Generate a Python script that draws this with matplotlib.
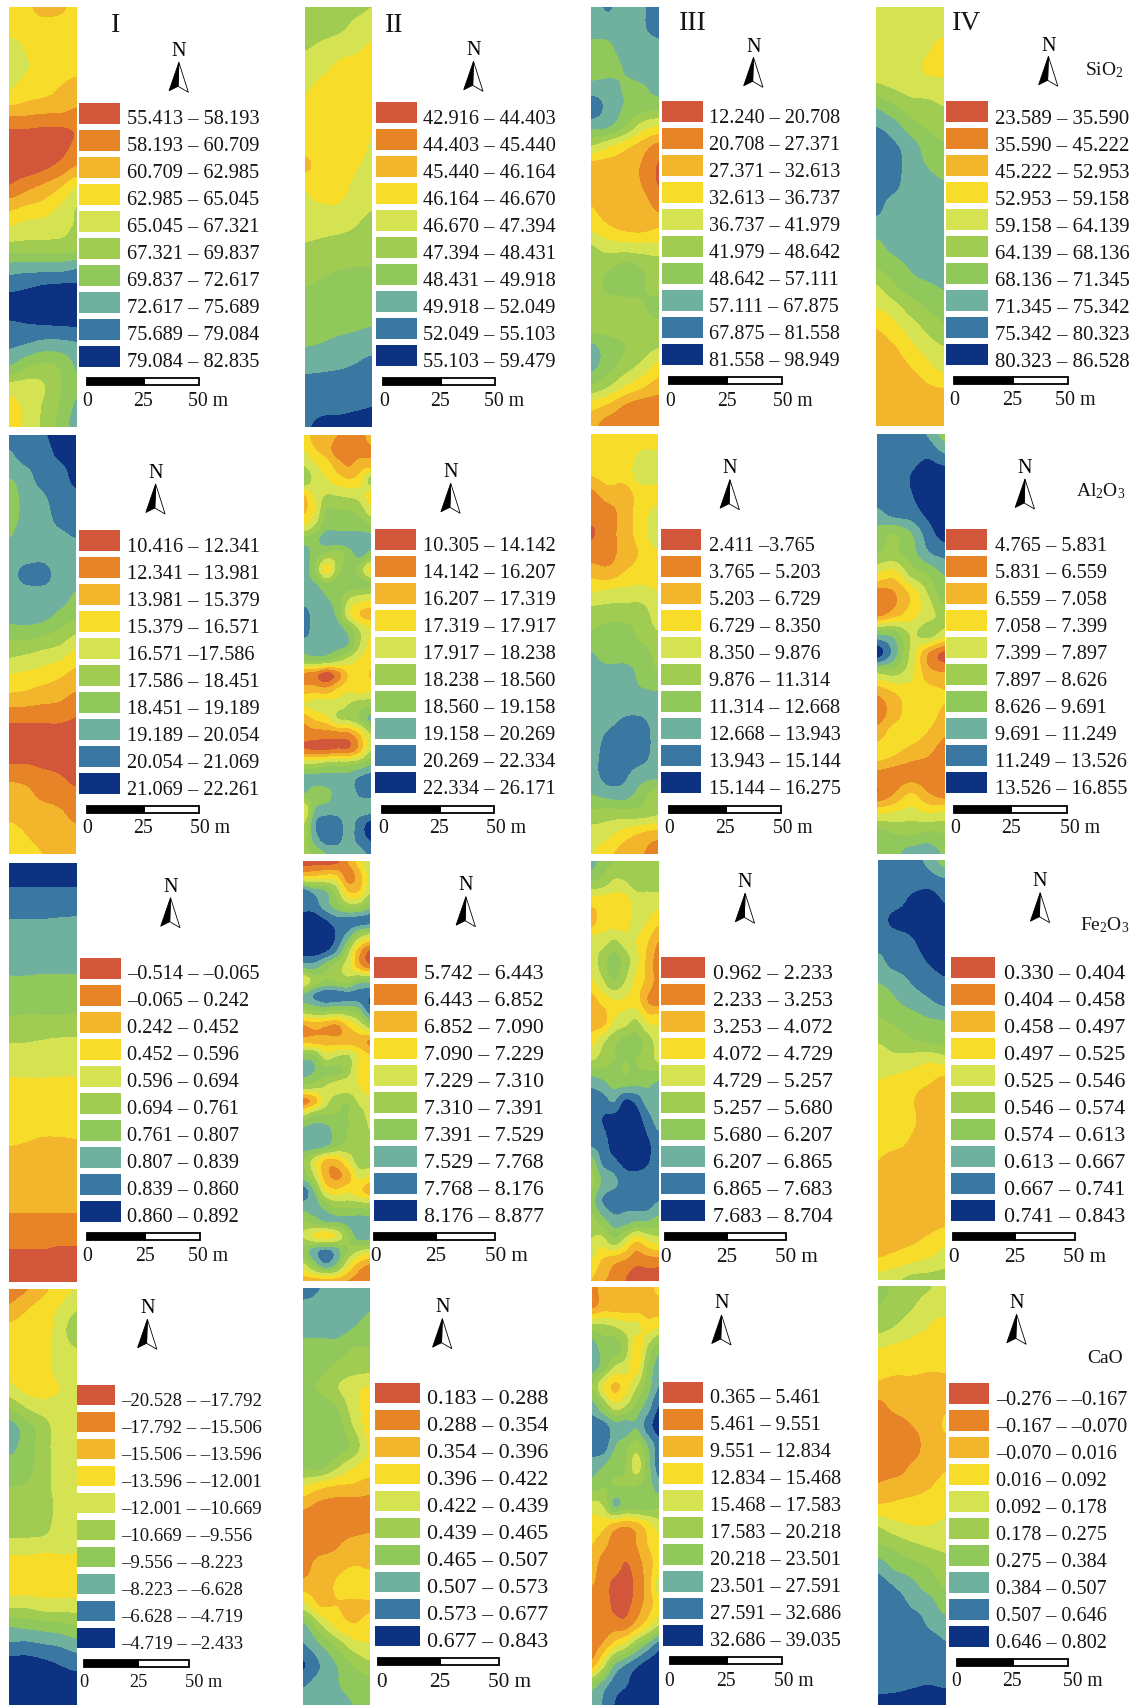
import numpy as np
import matplotlib
matplotlib.use('Agg')
import matplotlib.pyplot as plt
from matplotlib.colors import ListedColormap, BoundaryNorm
from matplotlib.patches import Rectangle

plt.rcParams['font.family'] = ['Liberation Serif', 'DejaVu Serif']
plt.rcParams['mathtext.fontset'] = 'custom'
plt.rcParams['mathtext.rm'] = 'Liberation Serif'
plt.rcParams['mathtext.default'] = 'rm'

# legend colours, class 1 (top swatch) to class 10 (bottom swatch)
COLORS = ['#D2573A', '#E78427', '#F2B52C', '#F7DC2A', '#D5E353',
          '#A0CC52', '#90C85B', '#70B09E', '#3A78A2', '#0D3282']

ROMAN = ['I', 'II', 'III', 'IV']
OXIDES = ['SiO$_2$', 'Al$_2$O$_3$', 'Fe$_2$O$_3$', 'CaO']

# legend labels, row by row
LABELS_1_1 = ['55.413 – 58.193', '58.193 – 60.709', '60.709 – 62.985', '62.985 – 65.045', '65.045 – 67.321',
              '67.321 – 69.837', '69.837 – 72.617', '72.617 – 75.689', '75.689 – 79.084', '79.084 – 82.835']
LABELS_1_2 = ['42.916 – 44.403', '44.403 – 45.440', '45.440 – 46.164', '46.164 – 46.670', '46.670 – 47.394',
              '47.394 – 48.431', '48.431 – 49.918', '49.918 – 52.049', '52.049 – 55.103', '55.103 – 59.479']
LABELS_1_3 = ['12.240 – 20.708', '20.708 – 27.371', '27.371 – 32.613', '32.613 – 36.737', '36.737 – 41.979',
              '41.979 – 48.642', '48.642 – 57.111', '57.111 – 67.875', '67.875 – 81.558', '81.558 – 98.949']
LABELS_1_4 = ['23.589 – 35.590', '35.590 – 45.222', '45.222 – 52.953', '52.953 – 59.158', '59.158 – 64.139',
              '64.139 – 68.136', '68.136 – 71.345', '71.345 – 75.342', '75.342 – 80.323', '80.323 – 86.528']
LABELS_2_1 = ['10.416 – 12.341', '12.341 – 13.981', '13.981 – 15.379', '15.379 – 16.571', '16.571 –17.586',
              '17.586 – 18.451', '18.451 – 19.189', '19.189 – 20.054', '20.054 – 21.069', '21.069 – 22.261']
LABELS_2_2 = ['10.305 – 14.142', '14.142 – 16.207', '16.207 – 17.319', '17.319 – 17.917', '17.917 – 18.238',
              '18.238 – 18.560', '18.560 – 19.158', '19.158 – 20.269', '20.269 – 22.334', '22.334 – 26.171']
LABELS_2_3 = ['2.411 –3.765', '3.765 – 5.203', '5.203 – 6.729', '6.729 – 8.350', '8.350 – 9.876',
              '9.876 – 11.314', '11.314 – 12.668', '12.668 – 13.943', '13.943 – 15.144', '15.144 – 16.275']
LABELS_2_4 = ['4.765 – 5.831', '5.831 – 6.559', '6.559 – 7.058', '7.058 – 7.399', '7.399 – 7.897',
              '7.897 – 8.626', '8.626 – 9.691', '9.691 – 11.249', '11.249 – 13.526', '13.526 – 16.855']
LABELS_3_1 = ['–0.514 – –0.065', '–0.065 – 0.242', '0.242 – 0.452', '0.452 – 0.596', '0.596 – 0.694',
              '0.694 – 0.761', '0.761 – 0.807', '0.807 – 0.839', '0.839 – 0.860', '0.860 – 0.892']
LABELS_3_2 = ['5.742 – 6.443', '6.443 – 6.852', '6.852 – 7.090', '7.090 – 7.229', '7.229 – 7.310',
              '7.310 – 7.391', '7.391 – 7.529', '7.529 – 7.768', '7.768 – 8.176', '8.176 – 8.877']
LABELS_3_3 = ['0.962 – 2.233', '2.233 – 3.253', '3.253 – 4.072', '4.072 – 4.729', '4.729 – 5.257',
              '5.257 – 5.680', '5.680 – 6.207', '6.207 – 6.865', '6.865 – 7.683', '7.683 – 8.704']
LABELS_3_4 = ['0.330 – 0.404', '0.404 – 0.458', '0.458 – 0.497', '0.497 – 0.525', '0.525 – 0.546',
              '0.546 – 0.574', '0.574 – 0.613', '0.613 – 0.667', '0.667 – 0.741', '0.741 – 0.843']
LABELS_4_1 = ['–20.528 – –17.792', '–17.792 – –15.506', '–15.506 – –13.596', '–13.596 – –12.001', '–12.001 – –10.669',
              '–10.669 – –9.556', '–9.556 – –8.223', '–8.223 – –6.628', '–6.628 – –4.719', '–4.719 – –2.433']
LABELS_4_2 = ['0.183 – 0.288', '0.288 – 0.354', '0.354 – 0.396', '0.396 – 0.422', '0.422 – 0.439',
              '0.439 – 0.465', '0.465 – 0.507', '0.507 – 0.573', '0.573 – 0.677', '0.677 – 0.843']
LABELS_4_3 = ['0.365 – 5.461', '5.461 – 9.551', '9.551 – 12.834', '12.834 – 15.468', '15.468 – 17.583',
              '17.583 – 20.218', '20.218 – 23.501', '23.501 – 27.591', '27.591 – 32.686', '32.686 – 39.035']
LABELS_4_4 = ['–0.276 – –0.167', '–0.167 – –0.070', '–0.070 – 0.016', '0.016 – 0.092', '0.092 – 0.178',
              '0.178 – 0.275', '0.275 – 0.384', '0.384 – 0.507', '0.507 – 0.646', '0.646 – 0.802']

# maps: legend class at grid points, top row first
MAP_1_1 = [[4, 3.8, 3, 3.2, 4], [4, 4, 4, 4, 4], [5, 4.4, 4, 4, 4], [5, 4.6, 4, 4, 3.9],
           [4.6, 4.1, 3.9, 3.5, 3], [3.4, 3.2, 3, 2.9, 2.5], [1.6, 1.6, 1.5, 1.5, 1.6], [1, 1, 1, 1.2, 1.7],
           [1, 1, 1.3, 1.8, 2.6], [1.6, 2.2, 2.7, 3.4, 4.5], [3.2, 3.6, 3.9, 4.6, 5.5], [4.5, 4.9, 5, 5.2, 5.6],
           [5.9, 5.9, 5.9, 5.9, 6], [7.9, 8, 8, 8, 8.3], [9.2, 9.4, 9.6, 9.7, 9.7], [10, 10, 10, 10, 10],
           [9.2, 9.35, 9.4, 9.45, 9.5], [8.6, 8.3, 7.9, 7.9, 8.2], [7.4, 6.6, 6.2, 6.6, 7.6], [5, 5, 5.4, 6.4, 7.3],
           [4.2, 4.7, 5.6, 6.6, 7.7], [4, 4.7, 5.7, 6.8, 8]]
MAP_1_2 = [[6.4, 6, 5.8, 5.7, 5.5], [6, 5.9, 5.7, 5.3, 5], [5.6, 5.3, 5, 4.8, 4.3], [5, 4.8, 4.3, 4, 4],
           [4.7, 4.2, 4, 4, 4], [4, 4, 4, 4, 4], [4, 4, 4, 4, 4.4], [3.8, 4, 4, 4.1, 4.6],
           [3.3, 3.9, 4, 4.4, 4.8], [4.4, 4, 4.1, 4.7, 5], [4.7, 4.6, 4.6, 5, 5.4], [5.1, 5.1, 5.2, 5.5, 5.9],
           [5.6, 5.8, 6, 6, 6], [6, 6.2, 6.4, 6.5, 6.5], [6.5, 6.7, 7, 7, 7], [7, 7, 7, 7, 7],
           [7.2, 7.2, 7.3, 7.4, 7.5], [7.5, 7.6, 7.8, 7.9, 8.1], [8.2, 8.3, 8.4, 8.6, 9], [9, 9, 9.1, 9.2, 9.2],
           [9.2, 9.3, 9.3, 9.4, 9.5], [9.4, 9.7, 9.8, 9.9, 9.9]]
MAP_1_3 = [[8, 8.6, 8, 8.3, 9.2], [8, 8, 8, 8.3, 9.2], [7.2, 7.3, 8, 8, 8], [7, 7, 7.6, 8, 8],
           [7.8, 7.9, 7.4, 7.4, 7.9], [9.1, 8.2, 7.4, 7, 6.8], [7.8, 7.6, 6.5, 5, 4.4], [5.4, 4.6, 3.8, 3, 2.1],
           [3, 3, 3, 2.4, 1.4], [3, 3, 3, 2.5, 1.5], [3.5, 3, 3, 3, 2.2], [4.2, 3.6, 3.2, 3.1, 3.4],
           [5.6, 5, 4.9, 4.8, 4.8], [6, 6.3, 6.8, 6.4, 6], [6, 6.7, 7, 6.6, 6], [6, 6, 6, 6.4, 6.9],
           [6, 6, 6, 6, 6.2], [7.7, 7, 6.5, 6, 5.6], [7.8, 6.9, 6, 5.2, 4.2], [6.4, 5.6, 4.5, 3.7, 3],
           [3.9, 3.3, 2.4, 2, 2], [2.8, 2, 2, 2, 2]]
MAP_1_4 = [[5, 5, 5, 5, 5], [5, 5, 5, 5, 5], [5, 5, 5, 4.7, 4], [5, 5, 5, 4.3, 4],
           [5.7, 5.4, 5.1, 5, 5], [7.4, 6.7, 6, 5.8, 5.5], [8.5, 8, 7, 6.4, 6.1], [9, 8.7, 8, 7.1, 6.6],
           [9.1, 9, 8, 7.5, 7], [9.1, 8.8, 8, 8, 7.7], [8.9, 8, 8, 8, 8], [8, 8, 8, 8, 8],
           [7.2, 7.8, 8, 8, 8], [6.6, 7, 7.6, 8, 8], [5.4, 6.3, 7, 7.3, 7.6], [4.6, 5.1, 6, 6.6, 7],
           [3.6, 4.2, 5, 5.8, 6.4], [3, 3.4, 4.2, 5, 5.5], [3, 3, 3.5, 4.2, 4.9], [3, 3, 3, 3.4, 3.6],
           [3, 3, 3, 3, 3], [3, 3, 3, 3, 3]]
MAP_2_1 = [[9, 9, 9.3, 10, 10], [8.3, 9, 9, 9.7, 10], [7.6, 8.1, 9, 9, 9.9], [7, 7.9, 8.4, 9, 9.3],
           [7, 7.8, 8, 8.9, 9], [7.4, 8, 8, 8.3, 8.6], [8, 8, 8.1, 8, 8], [8, 8.9, 9, 8, 7.9],
           [8, 8, 8, 8, 7.4], [8, 8, 7.9, 7.3, 6.8], [6.8, 6.9, 6.6, 6.2, 5.5], [5.7, 5.5, 5.2, 4.9, 4.2],
           [4.5, 4.3, 4.1, 3.7, 3.2], [3.4, 3.3, 3, 2.8, 2.4], [2, 2, 2, 2, 1.6], [1, 1, 1, 1, 1],
           [1, 1.1, 1, 1, 1], [2.1, 2, 1.7, 1.5, 1.2], [3, 2.8, 2.2, 2, 1.7], [3.2, 3, 3, 2.7, 2.2],
           [4, 3.5, 3, 3, 2.8], [4.2, 4, 3.5, 3, 3]]
MAP_2_2 = [[4, 3, 3, 2.5, 2, 2, 3], [4.5, 3.6, 3, 2, 2, 2, 2.4], [5.4, 4.6, 4, 3, 2.4, 3, 3],
           [6.5, 5, 4.6, 4, 3.6, 4, 6], [3.5, 4.8, 5.5, 5.4, 5.2, 5, 4], [3.3, 4.5, 6.5, 6.5, 6.5, 6, 4.8],
           [4.4, 5.5, 7, 7, 7, 7, 6.5], [7, 7.2, 8, 8, 8, 8, 8], [8, 7, 6.2, 6, 7, 7.8, 7],
           [8, 6.5, 4, 6, 7, 6, 4.2], [7.8, 7.6, 6.8, 7, 7, 7, 6.6], [8, 8, 7.6, 7, 5.5, 4.8, 4.6],
           [9, 8, 8, 7.2, 4.8, 3.5, 3], [9, 8, 8, 8, 7, 5.4, 4.5], [8, 8, 8, 8, 7.4, 5.5, 4.2],
           [6.8, 7, 6.8, 6, 5.2, 4.4, 4], [2.2, 1.9, 1, 2, 3.6, 4, 3.4], [3, 3, 2.8, 3.6, 4.3, 4, 4.2],
           [4.5, 4.9, 5, 5, 5.5, 6, 6.2], [2.8, 3.6, 4, 5.4, 5.6, 6.5, 7.7], [2, 2, 2, 2, 2.2, 3.5, 5.5],
           [1.6, 1.4, 1.4, 1.6, 1.6, 3, 5.5], [5.5, 5.6, 6, 6.2, 6.2, 6.6, 7.4], [8, 8, 8, 8, 8, 8.7, 9],
           [7.4, 6.6, 7, 8, 8, 8.6, 8.7], [4.5, 7.5, 8, 8, 8, 8, 8], [5.5, 8.4, 9, 9, 8, 9, 9.8],
           [6, 8, 9, 8.9, 8, 9, 9.6], [6.2, 6.7, 7.5, 7.8, 7.6, 8, 8.8]]
MAP_2_3 = [[4, 4, 4, 4, 4], [4, 4, 4, 4.6, 4.6], [3.6, 4, 4, 5, 5], [2.2, 3, 3, 4, 4],
           [1.8, 2, 3, 4, 5], [1.4, 2, 3, 4, 5.4], [2, 2, 3, 3.6, 4.3], [3.2, 3, 3.6, 4, 4],
           [4.6, 4.9, 5, 5, 4.6], [6, 6, 6, 6, 5], [6.6, 7, 7, 6.2, 5.6], [7.6, 7, 7, 7, 6.2],
           [8, 8, 8, 7.2, 6.6], [8, 8, 7.7, 7.7, 7.6], [8, 8, 8.4, 8.4, 8], [8, 8.6, 9, 9.1, 8],
           [8, 9, 9.1, 9, 8], [8, 9, 8.7, 8, 7.9], [7.5, 7.9, 8, 7, 6], [6.2, 6, 6, 6, 5.6],
           [5, 4.8, 4, 3.4, 3], [4.6, 3.8, 3, 2.6, 1.8]]
MAP_2_4 = [[9, 9, 9, 8.4, 7], [9, 9, 9, 9.3, 8.5], [9, 9, 9.5, 10, 10], [9, 9, 9.45, 10, 10],
           [8.2, 8.8, 9, 9.7, 10], [7, 6.5, 7.4, 9, 9.9], [6.4, 6.2, 7, 8.3, 8.8], [4.4, 4, 5.8, 6.6, 7.6],
           [2, 2.4, 3.7, 5.5, 7.1], [2, 3, 4, 5, 6], [7.4, 7, 5.4, 6, 5], [10, 8, 5.2, 2.5, 1.2],
           [5.4, 5.7, 4.8, 3, 2.6], [2.6, 3.4, 4, 4, 3.6], [2, 3, 4, 4, 3.2], [3, 4, 4, 3.4, 2.6],
           [4, 3.6, 3, 2.6, 2], [2.2, 2, 2, 2, 2], [1.6, 2.5, 3.6, 2.6, 2], [4.5, 4.7, 5, 4.6, 4.8],
           [7, 6.5, 6.4, 6.8, 6.5], [7, 7.2, 8, 8, 7.4]]
MAP_3_1 = [[10, 10, 10, 10, 10], [9.6, 9.6, 9.6, 9.6, 9.6], [9, 9, 9, 9, 9], [8.4, 8.4, 8.4, 8.35, 8.3],
           [8.1, 8.1, 8.1, 8.1, 8.1], [7.75, 7.75, 7.75, 7.75, 7.75], [7.35, 7.35, 7.3, 7.3, 7.3], [6.9, 6.9, 6.9, 6.9, 6.9],
           [6.3, 6.2, 6.2, 6.2, 6.1], [5.5, 5.5, 5.4, 5.3, 5.3], [4.9, 4.9, 4.9, 4.8, 4.8], [4.4, 4.4, 4.4, 4.4, 4.4],
           [4.2, 4.2, 4.2, 4.2, 4.2], [3.85, 3.85, 3.85, 3.85, 3.85], [3.55, 3.5, 3.4, 3.4, 3.45], [3.3, 3.3, 3.3, 3.3, 3.3],
           [3, 3, 3, 3, 3], [2.7, 2.7, 2.7, 2.7, 2.7], [2.3, 2.3, 2.3, 2.3, 2.3], [1.7, 1.7, 1.7, 1.6, 1.6],
           [1.2, 1.2, 1.2, 1.2, 1.2], [1, 1, 1, 1, 1]]
MAP_3_2 = [[1, 1, 1, 1.2, 2.5, 4, 5.5], [3.5, 3.5, 3.8, 3.6, 2, 3, 4.8], [9, 8, 7.5, 6, 3.5, 3.5, 5.3],
           [9.2, 9, 8, 7, 6, 6, 7], [10, 10, 9.6, 9, 9, 9, 9], [10, 10, 10, 9.4, 8, 6, 5],
           [10, 10, 9.6, 8.5, 6, 3, 1.4], [8, 8, 7, 6, 5, 3, 1.8], [4.5, 6, 6.6, 6.4, 6, 7, 7],
           [7.8, 8.6, 9.3, 9.2, 9, 9, 9.4], [6, 6.4, 6.5, 6.2, 6.4, 7, 9], [2.4, 2.8, 2.6, 2.3, 3.5, 4.6, 6],
           [3, 3, 3, 3, 3, 3, 2.4], [7, 6.8, 5, 5.4, 5.6, 4.4, 3.6], [8, 7.5, 6.8, 6.8, 6, 4.3, 3.7],
           [6.2, 6, 5.5, 5, 4.8, 4.5, 3.6], [2, 3, 5, 6, 6.4, 5.3, 5], [5.5, 6.6, 6.6, 6.6, 6.5, 6, 5.2],
           [8, 8, 8, 7, 6.5, 6.4, 5.5], [8, 8, 7.6, 6.6, 6.2, 6, 6], [6.6, 5, 3.3, 3.2, 4.5, 6, 6.3],
           [7.2, 5.5, 3, 2.3, 3, 4.8, 4.4], [9, 7.4, 4.5, 3.8, 4.3, 3.8, 3], [8, 8, 7, 6.2, 6.2, 6.2, 6],
           [6.4, 7, 7.6, 7.6, 7.8, 8, 8], [5.4, 4.4, 3.8, 4.6, 6.4, 8, 8], [7, 8, 8.8, 8, 6.4, 5.5, 5],
           [5, 6.6, 8, 7, 4.6, 3, 2.3], [3, 3, 3, 3, 2.5, 2, 2]]
MAP_3_3 = [[8, 7, 6.5, 6, 6, 6, 6], [6.6, 6.2, 5.4, 5.5, 6, 6, 6], [4, 4, 4, 4, 5, 5, 5],
           [3, 4, 4, 4, 5, 4.5, 3.8], [5, 5, 5.6, 5, 4.5, 3.6, 2.5], [4.8, 6, 7, 6, 4.8, 3.2, 2],
           [4.3, 5.3, 6.5, 5.5, 4.2, 3.2, 2], [3, 3.8, 4.4, 4.4, 4, 2.5, 2], [3, 3, 4.5, 5, 5.6, 4.3, 4.2],
           [4, 5.2, 6.2, 6.8, 6.9, 6, 5], [5.5, 6, 6.5, 6.5, 6.5, 6, 5.4], [8, 7.6, 7, 6.8, 7, 7.2, 7.5],
           [9, 9, 8.4, 9.6, 9.2, 8, 8], [9, 9.5, 10, 10, 10, 9, 8], [9, 9, 10, 10, 10, 9.6, 9],
           [7, 8.7, 9.3, 9.8, 10, 9.6, 9], [6, 7.6, 8.2, 9, 9, 9, 9], [7, 8.5, 9, 8.7, 9, 9, 8.5],
           [6, 7, 8, 8, 7.5, 7.5, 7], [5.4, 5, 6.2, 5, 3.6, 4.4, 5], [4.5, 3.4, 2.8, 2.4, 1.8, 2, 2],
           [3.5, 2.6, 2.3, 1.5, 1, 1, 1]]
MAP_3_4 = [[9, 9, 9, 8.2, 7], [9, 9, 9, 9, 8.6], [9, 9, 9.7, 10, 9.4], [9, 9.8, 10, 10, 10],
           [9, 9, 9.4, 10, 10], [8.2, 9, 9, 9.6, 10], [7.6, 8, 8.6, 9, 9.4], [6.9, 7.4, 8, 8.4, 8.9],
           [6.4, 6.7, 7, 7.4, 7.5], [5.6, 6, 6.4, 6.7, 6.9], [5, 5.2, 5, 4.7, 5], [4.5, 4.3, 4, 3.7, 3.2],
           [4.1, 4, 3.6, 3, 3], [4, 4, 3.7, 3, 3], [4, 4, 3.4, 3, 3], [3.5, 3, 3, 3, 3],
           [3, 3, 3, 3, 3], [3, 3, 3, 3, 3], [3, 3, 3, 3, 3.2], [3, 3.1, 3.3, 3.7, 4.2],
           [3.6, 3.9, 4.3, 4.6, 5], [5, 5.3, 5.8, 5.9, 6]]
MAP_4_1 = [[2, 2.4, 3.2, 4, 4.6], [2.7, 3.4, 4, 4.6, 5.4], [3.8, 4, 4, 5, 6.2], [4, 4, 4, 5, 5.5],
           [4, 4, 4, 5, 5], [4.8, 4.2, 4, 4.5, 5], [6.4, 5.5, 5, 5, 5], [8, 7, 6, 5, 5],
           [7.8, 7, 6, 5, 5], [7, 6.8, 6, 5, 5], [6.5, 6.4, 6, 5, 5], [6, 6, 6, 5.2, 5],
           [6, 6, 5.9, 5, 5], [5, 5, 4.9, 4.9, 4.8], [4, 4, 3.8, 3.8, 3.9], [4, 4, 4, 4, 4],
           [5.3, 5.3, 5, 5, 5], [7.4, 7.2, 7, 6.8, 6.5], [8.7, 8.8, 8.6, 8.4, 8], [10, 10, 9.8, 9.5, 9.2],
           [10, 10, 10, 10, 10], [10, 10, 10, 10, 10]]
MAP_4_2 = [[9.3, 8.5, 8, 8, 8], [8, 8, 8, 8, 7.6], [8, 8, 8, 7.5, 7], [7, 7, 7, 6.5, 6.5],
           [7, 6.8, 6.3, 6, 5.9], [6.6, 6.4, 5.6, 4.8, 4.4], [7, 7, 6.5, 5, 4], [7, 7, 7, 5.5, 4],
           [7, 7, 7, 6.2, 4.4], [6.6, 6.8, 5.7, 4.6, 4], [4.5, 3.8, 3.4, 3.3, 3], [2.7, 2.2, 2, 2, 2],
           [2, 2, 2, 2, 2.3], [2, 2, 2.4, 3, 3], [2, 3, 3.2, 3.5, 3.4], [3, 3, 3.6, 4, 3.9],
           [5, 3.5, 3.5, 3.3, 3.4], [7.8, 5.8, 4.2, 3.6, 3.9], [8.6, 7.6, 6.3, 5, 4.6], [9.6, 8.5, 7.5, 6.5, 5.8],
           [8.6, 8, 7.6, 7, 7], [8, 8, 8, 7.5, 7]]
MAP_4_3 = [[2, 3, 3, 3, 3, 3, 4], [2.3, 3, 3, 3, 3, 3, 3], [6, 5.8, 5.5, 5, 4.8, 4, 4.5],
           [8, 7, 7, 6, 3.8, 5.5, 7], [8, 7, 5.5, 5, 4, 6.5, 8], [6.5, 4.5, 3.3, 4, 5.4, 7, 8.5],
           [8, 6.5, 5, 5.5, 6.8, 8, 9.5], [9, 9, 8, 8, 7.6, 9, 10], [9, 9, 7.6, 6.8, 6, 7.5, 9],
           [8, 7.5, 6.8, 6.5, 5, 7, 9], [7, 6.6, 6.5, 6.5, 6.5, 7, 8], [5, 5.5, 7.55, 7, 7, 7, 6.6],
           [4, 3.8, 3, 2.6, 3, 4, 5], [3.5, 2.8, 2, 2, 2.5, 3.5, 4], [3, 2, 2, 1.4, 2, 3, 4],
           [2.5, 2, 1.2, 1, 1.8, 3, 5], [2, 2, 1.3, 1.2, 2, 3, 4], [2, 2, 2, 2, 3, 4.2, 5.5],
           [2, 2.7, 4, 5, 6.5, 7.8, 9], [3, 5, 7.5, 8.5, 9.3, 9.9, 10], [7, 8, 9, 9.4, 10, 10, 10],
           [8, 8.6, 9.5, 10, 10, 10, 10]]
MAP_4_4 = [[7, 6.3, 6, 5.6, 5], [6.5, 6, 5.6, 5, 5], [6, 5.5, 5, 4.5, 4], [4.6, 4.4, 4.2, 4, 3.8],
           [4, 4, 4, 3.7, 3.7], [3.3, 3, 3, 3, 3.2], [2.2, 2.8, 3, 3, 3.4], [1.8, 2, 2.5, 3, 3.6],
           [2, 2, 2, 3, 3.3], [2, 2, 2.6, 3, 3.4], [2.6, 2.9, 3, 3.4, 3.8], [3.6, 3.7, 3.9, 4, 4.2],
           [5.4, 4.8, 4.5, 4.5, 4.7], [6.6, 6.2, 5.7, 5.4, 5.2], [8, 7.2, 6.8, 6.4, 6], [9, 8.4, 7.8, 7, 6.4],
           [9, 9, 8.4, 8, 7], [9, 9, 9, 8.4, 8], [9, 9, 9, 9, 8.6], [9, 9, 9, 9, 9],
           [9.2, 9.2, 9.4, 9.5, 9.4], [9.8, 10, 10, 10, 10]]

MAPS = [MAP_1_1, MAP_1_2, MAP_1_3, MAP_1_4, MAP_2_1, MAP_2_2, MAP_2_3, MAP_2_4,
        MAP_3_1, MAP_3_2, MAP_3_3, MAP_3_4, MAP_4_1, MAP_4_2, MAP_4_3, MAP_4_4]
LABELS = [LABELS_1_1, LABELS_1_2, LABELS_1_3, LABELS_1_4, LABELS_2_1, LABELS_2_2, LABELS_2_3, LABELS_2_4,
          LABELS_3_1, LABELS_3_2, LABELS_3_3, LABELS_3_4, LABELS_4_1, LABELS_4_2, LABELS_4_3, LABELS_4_4]

# layout read from the crops; x goes through sx() below
# map x0, x1, y0, y1
BOXES = [(8.3, 70, 8.3, 428), (281, 342.3, 8.3, 428), (589, 651, 8, 427), (851.3, 913.7, 8, 427),
         (8.3, 69.3, 436, 855), (280.3, 341.7, 436, 855), (588.7, 650.3, 435, 855), (852, 913.7, 435, 855),
         (8.3, 70, 864, 1283), (278.7, 340, 862, 1282), (589, 651, 862, 1282), (853, 914.3, 861, 1281),
         (8.3, 70, 1290, 1706), (278.7, 340, 1289, 1706), (589.7, 651.3, 1288, 1706), (853, 914.7, 1287, 1706)]
# swatch x0, x1, top of first swatch, text x, centre of first text line
LEGENDS = [(72.7, 110.3, 104, 116.7, 117.3), (346, 383.7, 103.3, 389.3, 117.3), (654.7, 692, 102.3, 698, 116.7),
           (916.3, 954.7, 102.3, 961.3, 116.7),
           (72.7, 110.3, 531, 117.3, 545), (345, 382.7, 530.3, 389.3, 544.3), (653.3, 690.7, 530.3, 697.3, 544.3),
           (916.3, 954, 530, 960.7, 544.3),
           (73.3, 111, 959, 116.7, 972.3), (344, 384.3, 958.3, 390.7, 972.2), (654, 694.3, 958.3, 701, 971.8),
           (920.7, 961.3, 958.3, 969.3, 971.5),
           (71, 105.7, 1385.7, 111.7, 1399.5), (345.7, 386.3, 1383.7, 393.3, 1397), (655, 692.3, 1383, 698.3, 1396.7),
           (918.7, 956, 1384.3, 962, 1398)]
# scale bar x0, xmid, x1, top, label centres for 0, 25, 50 m, label y
BARS = [(80, 132.3, 183.3, 379, 80.3, 132, 192, 401.3), (352.7, 406, 455.7, 379, 353.7, 405, 464, 401.3),
        (661.3, 714, 765, 378.3, 662, 714, 775, 401.5), (923.7, 977.3, 1028, 378.3, 923.3, 977.3, 1034.7, 400.5),
        (80, 132.3, 183.3, 806.7, 80.3, 132, 193, 828.7), (352, 404.7, 455, 806.7, 352.7, 404, 466, 828.7),
        (660.7, 713, 764, 806.7, 661.3, 712.7, 775, 828.7), (923.7, 976.3, 1027.3, 806.7, 924.3, 975.7, 1039, 828.7),
        (80.3, 133.3, 184, 1234.3, 80.3, 133.3, 192, 1256.8), (344.3, 401.7, 456, 1234, 345.7, 401.3, 466, 1256.8),
        (657, 714, 769, 1233.7, 657.7, 713.7, 778, 1257), (922.7, 979.7, 1034.7, 1233.7, 923.3, 979.3, 1044, 1257),
        (77.7, 126.7, 174, 1661, 77, 127.7, 187.3, 1683), (347.7, 404.7, 459.7, 1659.3, 351, 404.7, 469.3, 1682.5),
        (661.7, 714, 765, 1658.3, 660.7, 713.3, 776, 1681.5), (925.7, 978, 1028.7, 1659.7, 925.3, 977, 1041.7, 1681.5)]
# north arrow x, y of the letter, y of the arrow tip
NORTH = [(164.7, 51.3, 63.3), (436, 50.7, 62.3), (738.7, 47, 58.3), (1010.3, 46.3, 57.3),
         (143.3, 473, 485), (415, 472.3, 484.3), (717, 468.7, 480.7), (988.7, 468, 480),
         (157, 887, 898.7), (429, 886, 897.7), (731, 882.7, 894.3), (1002.7, 882, 893.7),
         (135.7, 1308.3, 1320.3), (407.3, 1308, 1319.7), (709.3, 1304, 1316), (981, 1303.3, 1315.3)]
ROMAN_POS = [(106, 25), (363.3, 25), (682.7, 23.3), (935.3, 23.3)]
OXIDE_POS = [(1062, 70), (1058, 491.5), (1062, 925), (1062, 1358.7)]

LEGEND_STEP = 27.0
SWATCH_H = 20.5


def sx(x):
    # the crops came back squeezed in x, stretch back to picture pixels
    s = 1.086
    return x * s if x < 567 else 567 + (x - 567) * s


fig = plt.figure(figsize=(11.34, 17.06), dpi=100)
ax = fig.add_axes([0, 0, 1, 1])

cmap = ListedColormap(COLORS)
norm = BoundaryNorm(np.arange(0.5, 11.5, 1), 10)

for i, grid in enumerate(MAPS):
    x0, x1, y0, y1 = BOXES[i]
    x0, x1 = sx(x0), sx(x1)
    z = np.array(grid, dtype=float)
    dx = (x1 - x0) / (z.shape[1] - 1)
    dy = (y1 - y0) / (z.shape[0] - 1)
    im = ax.imshow(z, cmap=cmap, norm=norm, aspect='auto', origin='upper',
                   interpolation='catrom', interpolation_stage='data',
                   extent=(x0 - dx / 2, x1 + dx / 2, y1 + dy / 2, y0 - dy / 2))
    im.set_clip_path(Rectangle((x0, y0), x1 - x0, y1 - y0, transform=ax.transData))

    lx0, lx1, ly0, tx, ty = LEGENDS[i]
    em = (lx1 - lx0) * 18.75 / 37.6 * 1.086
    fs = em * 0.72
    for k, label in enumerate(LABELS[i]):
        ax.add_patch(Rectangle((sx(lx0), ly0 + k * LEGEND_STEP), sx(lx1) - sx(lx0), SWATCH_H, fc=COLORS[k], ec='none'))
        ax.text(sx(tx), ty + k * LEGEND_STEP + 0.33 * em, label, fontsize=fs, color='#151515',
                va='baseline', ha='left')

    b0, bm, b1, bt, l0, l25, l50, ly = BARS[i]
    b0, bm, b1 = sx(b0), sx(bm), sx(b1)
    ax.add_patch(Rectangle((bm, bt), b1 - bm, 7, fc='white', ec='black', lw=1.3))
    ax.add_patch(Rectangle((b0, bt), bm - b0, 7, fc='black', ec='black', lw=1.3))
    for lx, txt in zip((l0, l25, l50), ('0', '25', '50 m')):
        ax.text(sx(lx), ly, txt, fontsize=fs * 0.97, color='#151515', ha='center', va='center')

    nx, ny, tip = NORTH[i]
    nx = sx(nx)
    ax.text(nx, ny, 'N', fontsize=14.5, color='black', ha='center', va='center')
    ax.fill([nx, nx + 9.5, nx - 0.8], [tip, tip + 30, tip + 24], fc='white', ec='black', lw=0.6)
    ax.fill([nx, nx - 9.8, nx - 0.8], [tip, tip + 28.5, tip + 24], fc='black', ec='black', lw=0.6)

for (x, y), txt in zip(ROMAN_POS, ROMAN):
    ax.text(sx(x), y, txt, fontsize=20, color='#151515', ha='center', va='center')
for (x, y), txt in zip(OXIDE_POS, OXIDES):
    ax.text(sx(x), y, txt, fontsize=14, color='#151515', ha='center', va='center')

ax.set_xlim(0, 1134)
ax.set_ylim(1706, 0)
ax.axis('off')
fig.savefig('out.png', dpi=100)
